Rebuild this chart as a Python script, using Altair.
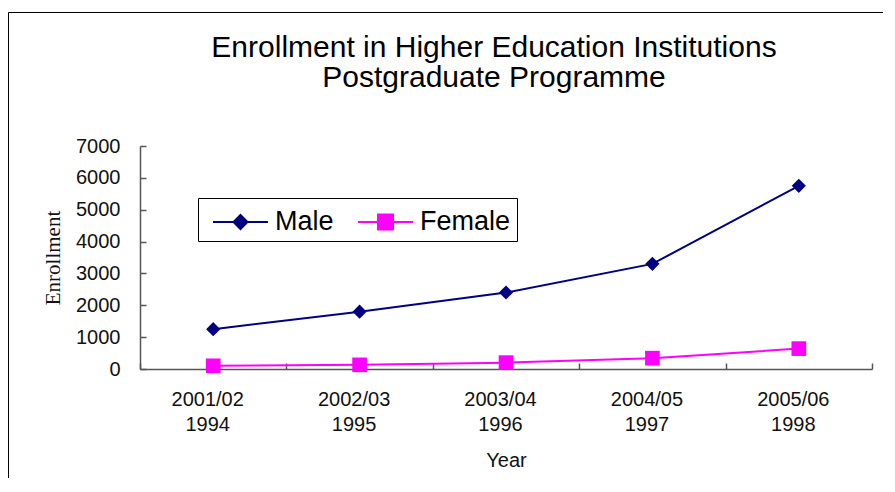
import altair as alt
import pandas as pd

periods = ["2001/02", "2002/03", "2003/04", "2004/05", "2005/06"]
years = ["1994", "1995", "1996", "1997", "1998"]
male = [1250, 1800, 2400, 3300, 5750]
female = [100, 130, 200, 340, 640]
series = ["Male", "Female"]
colors = ["#000080", "#FF00FF"]

cats = [f"{p} {y}" for p, y in zip(periods, years)]
df = pd.DataFrame({
    "cat": cats + cats,
    "series": ["Male"] * len(male) + ["Female"] * len(female),
    "value": male + female,
})

FONT = "Liberation Sans"
W, H = 732, 223

x_enc = alt.X(
    "cat:N", sort=cats,
    scale=alt.Scale(type="band", paddingInner=0, paddingOuter=0),
    bandPosition=0.5,
    axis=alt.Axis(
        title="Year", labelExpr="split(datum.label, ' ')", labelAngle=0,
        tickBand="extent", tickSize={"expr": "-6"}, labelPadding=26,
        labelFontSize=20, labelFont=FONT, labelColor="#111", labelLineHeight=25,
        labelBaseline="top", labelOffset=-6,
        titleFontSize=20, titleFont=FONT, titleFontWeight="normal", titleColor="#111",
        titleY=97, titleBaseline="alphabetic",
        domainColor="#555", tickColor="#555", domainWidth=1.5, tickWidth=1.5,
    ),
)
y_enc = alt.Y(
    "value:Q",
    scale=alt.Scale(domain=[0, 7000], nice=False),
    axis=alt.Axis(
        title="Enrollment", values=list(range(0, 7001, 1000)), grid=False, format="d",
        tickSize={"expr": "-6"}, labelPadding=26,
        labelFontSize=20, labelFont=FONT, labelColor="#111",
        titleFont="Liberation Serif", titleFontSize=21, titleFontWeight="normal",
        titleColor="#111", titleAngle=270, titleX=-87, titleY=111.5,
        titleAlign="center", titleBaseline="middle",
        domainColor="#555", tickColor="#555", domainWidth=1.5, tickWidth=1.5,
    ),
)

base = alt.Chart(df)


def series_layers(name, color, shape, size):
    sub = base.transform_filter(alt.datum.series == name)
    ln = sub.mark_line(strokeWidth=2, color=color).encode(x=x_enc, y=y_enc)
    pt = sub.mark_point(filled=True, opacity=1, size=size, shape=shape, color=color).encode(x=x_enc, y=y_enc)
    return [ln, pt]


def rings(kind):
    L = 1.618
    parts = [f"M{-L},0H{L}"]
    if kind == "diamond":
        for r in [0.41, 0.33, 0.25, 0.17, 0.09, 0.03]:
            parts.append(f"M0,{-r}L{r},0L0,{r}L{-r},0Z")
    else:
        for r in [0.44, 0.36, 0.28, 0.20, 0.12, 0.04]:
            parts.append(f"M{-r},{-r}H{r}V{r}H{-r}Z")
    return "".join(parts)


leg = alt.Legend(
    title=None, orient="none", legendX=58, legendY=52, direction="horizontal",
    strokeColor="black", fillColor="white", padding=6,
    labelFontSize=27, labelFont=FONT, labelColor="black",
    labelOffset=16.5, symbolOffset=18.5,
    labelExpr="datum.label == 'Female' ? datum.label + '\u00a0' : datum.label",
    symbolSize=1156, symbolStrokeWidth=2, symbolOpacity=1, columnPadding=15,
)
legend_layer = base.mark_point(filled=False, opacity=0, size=1156, strokeWidth=2).encode(
    x=x_enc, y=y_enc,
    color=alt.Color("series:N", scale=alt.Scale(domain=series, range=colors), legend=leg),
    shape=alt.Shape("series:N", scale=alt.Scale(domain=series, range=[rings("diamond"), rings("square")]), legend=leg),
)

frame = alt.Chart(alt.Data(values=[{"f": 1}])).mark_rect(
    fillOpacity=0, stroke="black", strokeWidth=1
).encode(x=alt.value(-131.5), x2=alt.value(900), y=alt.value(-133.5), y2=alt.value(600))

layers = [frame] + series_layers("Male", colors[0], "diamond", 200) + \
    series_layers("Female", colors[1], "square", 215) + [legend_layer]

chart = alt.layer(*layers).properties(
    width=W, height=H,
    padding={"left": 132, "top": 138, "right": 11, "bottom": 109},
    autosize=alt.AutoSizeParams(type="none"),
    title=alt.Title(
        ["Enrollment in Higher Education Institutions", "Postgraduate Programme"],
        fontSize=30, font=FONT, fontWeight="normal", lineHeight=30, color="black",
        anchor="middle", frame="group", dx=-12, dy=85,
    ),
).configure_view(stroke=None)

chart.save("out.html", embed_options={"renderer": "svg", "actions": False})
